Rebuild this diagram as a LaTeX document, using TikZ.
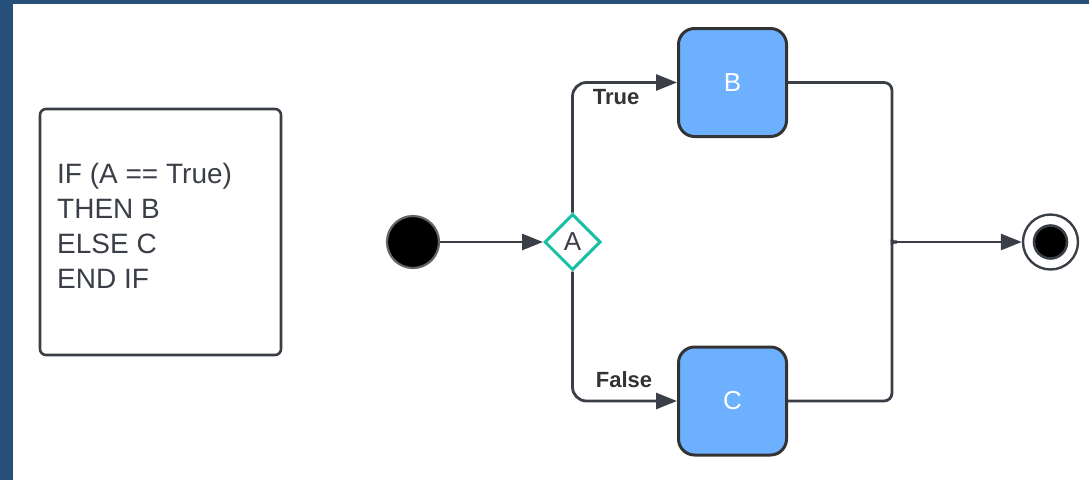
\documentclass[tikz,border=0pt]{standalone}
\usepackage{fontspec}
\setmainfont{Liberation Sans}
\usetikzlibrary{arrows.meta,shapes.geometric}
\definecolor{frameblue}{RGB}{38,79,122}
\definecolor{ink}{RGB}{58,63,71}
\definecolor{darkline}{RGB}{51,51,51}
\definecolor{gateteal}{RGB}{22,192,163}
\definecolor{taskblue}{RGB}{108,176,255}

\begin{document}
\begin{tikzpicture}[x=1pt,y=-1pt,
  wire/.style={draw=ink, line width=2.8pt},
  conn/.style={wire, -{Triangle[length=21pt,width=16pt]}},
  task/.style={draw=darkline, line width=3pt, fill=taskblue, rounded corners=16pt,
    minimum width=108pt, minimum height=108pt, inner sep=0pt,
    text=white, font=\fontsize{26}{26}\selectfont},
  gate/.style={diamond, draw=gateteal, line width=3pt, fill=white, inner sep=0pt,
    minimum width=56pt, minimum height=56pt, text=ink, font=\fontsize{26}{26}\selectfont},
  guard/.style={text=darkline, font=\fontsize{22}{22}\selectfont\bfseries, inner sep=0pt},
  notebox/.style={draw=ink, line width=2.6pt, rounded corners=6pt,
    minimum width=241pt, minimum height=246pt, inner sep=0pt}
]
\useasboundingbox (0,0) rectangle (1089,480);

% window frame
\fill[frameblue] (0,0) rectangle (12.5,480);
\fill[frameblue] (0,0) rectangle (1089,3.5);

% pseudocode note (base anchor sits on the last line)
\node[notebox] (note) at (160.5,232) {};
\node[anchor=base west, align=left, inner sep=0pt, text=ink,
  font=\fontsize{28}{35}\selectfont] (code) at (57,288)
  {IF (A == True)\\THEN B\\ELSE C\\END IF};

% activity nodes
\node[circle, fill=black, draw={rgb,255:red,100;green,100;blue,100}, line width=2.2pt,
  minimum size=52pt, inner sep=0pt] (start) at (413,242) {};
\node[gate] (dec) at (572.5,242) {A};
\node[task] (B) at (732.5,82.5) {B};
\node[task] (C) at (732.5,401) {C};
\node[circle, draw=ink, line width=2.4pt, fill=white, minimum size=55pt, inner sep=0pt]
  (end) at (1050.5,242) {};
\node[circle, draw=ink, line width=2.6pt, fill=black, minimum size=33pt, inner sep=0pt]
  (endcore) at (end.center) {};

% flows
\draw[conn] (start) -- (dec);
\draw[conn, rounded corners=14pt] (dec.north) |- (B.west);
\draw[conn, rounded corners=14pt] (dec.south) |- (C.west);
\node[guard] (tlab) at (616,97) {True};
\node[guard] (flab) at (624,380) {False};

% merge bracket
\coordinate (jtop) at (892,236.5);
\coordinate (jbot) at (892,247.5);
\coordinate (merge) at (897,242);
\draw[wire, rounded corners=8pt] (B.east) -| (jtop)
  .. controls (892,240) and (893.5,242) .. (merge);
\draw[wire, rounded corners=8pt] (C.east) -| (jbot)
  .. controls (892,244) and (893.5,242) .. (merge);
\draw[conn] (merge) -- (end);
\end{tikzpicture}
\end{document}
